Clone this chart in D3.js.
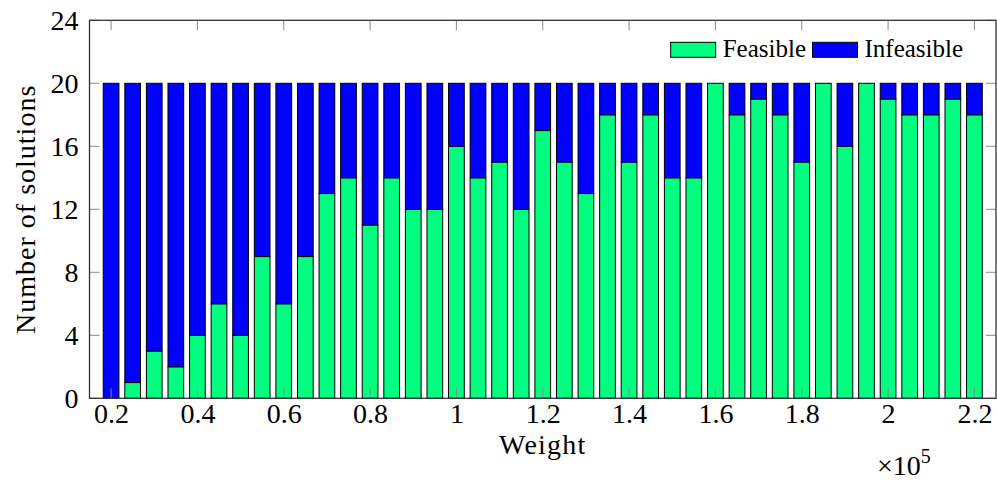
<!DOCTYPE html>
<html><head><meta charset="utf-8">
<script src="https://cdn.jsdelivr.net/npm/d3@7"></script>
<style>body{margin:0;background:#fff}svg{display:block}</style>
</head><body><svg id="c" width="997" height="480" font-family="Liberation Serif, DejaVu Serif, serif"></svg>
<script>
const weights = [0.2,0.25,0.3,0.35,0.4,0.45,0.5,0.55,0.6,0.65,0.7,0.75,0.8,0.85,0.9,0.95,1.0,1.05,1.1,1.15,1.2,1.25,1.3,1.35,1.4,1.45,1.5,1.55,1.6,1.65,1.7,1.75,1.8,1.85,1.9,1.95,2.0,2.05,2.1,2.15,2.2];
const feasible = [0,1,3,2,4,6,4,9,6,9,13,14,11,14,12,12,16,14,15,12,17,15,13,18,15,18,14,14,20,18,19,18,15,20,16,20,19,18,18,19,18];
const infeasible = [20,19,17,18,16,14,16,11,14,11,7,6,9,6,8,8,4,6,5,8,3,5,7,2,5,2,6,6,0,2,1,2,5,0,4,0,1,2,2,1,2];
const xTicks = [0.2,0.4,0.6,0.8,1,1.2,1.4,1.6,1.8,2,2.2];
const yTicks = [0,4,8,12,16,20,24];
const seriesNames = ["Feasible","Infeasible"];
const seriesColors = ["#00ff80","#0000ff"];

const FONT = "'Liberation Serif', 'DejaVu Serif', serif";
const svg = d3.select("#c");
const L=89.5, R=996, T=20.3, B=398.3;
const x = d3.scaleLinear().domain([0.15,2.25]).range([L,R]);
const y = d3.scaleLinear().domain([0,24]).range([B,T]);
const barHalf = 0.0182;

const rows = weights.map((w,i)=>({w, Feasible:feasible[i], Infeasible:infeasible[i]}));
const stack = d3.stack().keys(seriesNames)(rows);

const g = svg.append("g");
stack.forEach((s,si)=>{
  g.selectAll(null).data(s).enter().append("rect")
    .attr("x", d=>x(d.data.w-barHalf))
    .attr("width", d=>x(d.data.w+barHalf)-x(d.data.w-barHalf))
    .attr("y", d=>y(d[1]))
    .attr("height", d=>y(d[0])-y(d[1]))
    .attr("fill", seriesColors[si])
    .attr("stroke", "#000").attr("stroke-width", 1);
});

// ticks (inside, gray) on all sides
const tk = svg.append("g").attr("stroke","#8a8a8a").attr("stroke-width",1);
const tl = 10;
xTicks.forEach(t=>{
  tk.append("line").attr("x1",x(t)).attr("x2",x(t)).attr("y1",B).attr("y2",B-tl);
  tk.append("line").attr("x1",x(t)).attr("x2",x(t)).attr("y1",T).attr("y2",T+tl);
});
yTicks.forEach(t=>{
  tk.append("line").attr("x1",L).attr("x2",L+tl).attr("y1",y(t)).attr("y2",y(t));
  tk.append("line").attr("x1",R).attr("x2",R-tl).attr("y1",y(t)).attr("y2",y(t));
});

// frame
svg.append("rect").attr("x",L).attr("y",T).attr("width",R-L).attr("height",B-T)
  .attr("fill","none").attr("stroke","#333").attr("stroke-width",1.3);

const fs = 28;
const xa = svg.append("g").attr("transform",`translate(0,${B})`)
  .call(d3.axisBottom(x).tickValues(xTicks).tickSize(0).tickPadding(0).tickFormat(d=>String(d)));
xa.attr("font-family",null).attr("font-size",null);
xa.select(".domain").remove();
xa.selectAll("text").attr("dy",null).attr("y",24.5)
  .style("font-family",FONT).style("font-size",fs+"px").style("fill","#000");
const ya = svg.append("g").attr("transform",`translate(${L},0)`)
  .call(d3.axisLeft(y).tickValues(yTicks).tickSize(0).tickPadding(0).tickFormat(d3.format("d")));
ya.attr("font-family",null).attr("font-size",null);
ya.select(".domain").remove();
ya.selectAll("text").attr("dy","0.33em").attr("x",-11)
  .style("font-family",FONT).style("font-size",fs+"px").style("fill","#000");

function txt(sel, size){ return sel.style("font-family",FONT).style("font-size",(size||fs)+"px").style("fill","#000"); }

txt(svg.append("text").attr("x",(L+R)/2).attr("y",454).attr("text-anchor","middle"))
  .style("letter-spacing","1.2px").text("Weight");
txt(svg.append("text").attr("transform",`translate(35,${(T+B)/2}) rotate(-90)`)
  .attr("text-anchor","middle")).style("letter-spacing","1px").text("Number of solutions");
const m = txt(svg.append("text").attr("x",877).attr("y",475), 28);
m.append("tspan").text("×10");
m.append("tspan").style("font-size","20px").attr("dy",-12).text("5");

// legend
const lg = svg.append("g");
const legX = [670.7, 812.5];
seriesNames.forEach((n,i)=>{
  lg.append("rect").attr("x",legX[i]).attr("y",42.3).attr("width",45).attr("height",15)
    .attr("fill",seriesColors[i]).attr("stroke","#000").attr("stroke-width",1);
  txt(lg.append("text").attr("x",legX[i]+52).attr("y",56.5), 25).text(n);
});
</script></body></html>
